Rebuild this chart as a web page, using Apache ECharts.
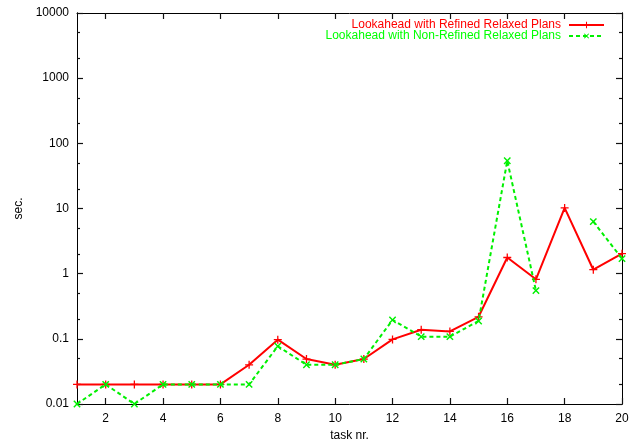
<!DOCTYPE html>
<html>
<head>
<meta charset="utf-8">
<style>
html,body{margin:0;padding:0;background:#fff;}
#chart{width:634px;height:442px;}
</style>
<script src="https://cdn.jsdelivr.net/npm/echarts@6/dist/echarts.min.js"></script>
</head>
<body>
<div id="chart"></div>
<script>
var tasks = [1,2,3,4,5,6,7,8,9,10,11,12,13,14,15,16,17,18,19,20];
var refined = [0.02,0.02,0.02,0.02,0.02,0.02,0.04,0.097,0.049,0.04,0.049,0.098,0.138,0.13,0.218,1.77,0.82,10.2,1.15,2.03];
var nonRefined = [0.01,0.02,0.01,0.02,0.02,0.02,0.02,0.077,0.04,0.04,0.049,0.195,0.108,0.108,0.188,54,0.55,null,6.3,1.7];
var xTicks = [2,4,6,8,10,12,14,16,18,20];
var yMajor = [0.01,0.1,1,10,100,1000,10000];
var yMinor = [0.02,0.05,0.2,0.5,2,5,20,50,200,500,2000,5000];
var seriesNames = ['Lookahead with Refined Relaxed Plans','Lookahead with Non-Refined Relaxed Plans'];

var RED = '#ff0000', GREEN = '#00f000', GREEN_TXT = '#00ff00';
var FONT = '"Liberation Sans", Arial, Helvetica, sans-serif';
var plus = 'path://M4.2,0H5.8V4.2H10V5.8H5.8V10H4.2V5.8H0V4.2H4.2Z';

function pairs(ys){ return tasks.map(function(t,i){ return [t, ys[i]]; }); }

function yAxisDef(pos, custom, len, labels){
  return {
    type:'log', logBase:10, min:0.01, max:10000, position:pos,
    axisLine:{show:true, onZero:false, lineStyle:{color:'#000', width:1}},
    axisTick:{show:true, inside:true, length:len, customValues:custom, lineStyle:{color:'#111', width:1.2}},
    axisLabel:{show:labels, customValues:yMajor, color:'#000', fontSize:12, fontFamily:FONT, margin:8,
      formatter:function(v){ return String(+Number(v).toPrecision(6)); }},
    splitLine:{show:false}, minorTick:{show:false}
  };
}

var chart = echarts.init(document.getElementById('chart'), null, {renderer:'canvas'});
var yAxes = [
  yAxisDef('left', yMajor, 6, true),
  yAxisDef('left', yMinor, 3, false),
  yAxisDef('right', yMajor, 6, false),
  yAxisDef('right', yMinor, 3, false)
];
yAxes[0].name = 'sec.';
yAxes[0].nameLocation = 'middle';
yAxes[0].nameGap = 41;
yAxes[0].nameTextStyle = {color:'#000', fontSize:12, fontFamily:FONT};

chart.setOption({
  animation:false,
  backgroundColor:'#fff',
  grid:{left:77, right:12, top:13, bottom:38, containLabel:false, outerBoundsMode:'none'},
  legend:{
    orient:'vertical', right:29, top:19, align:'right', padding:0,
    itemWidth:35, itemHeight:8, itemGap:-1,
    textStyle:{fontSize:12, fontFamily:FONT, lineHeight:10, padding:[0,3,0,0]},
    data:[
      {name:seriesNames[0], textStyle:{color:RED}},
      {name:seriesNames[1], textStyle:{color:GREEN_TXT}}
    ]
  },
  xAxis:[
    {type:'value', min:1, max:20, position:'bottom',
     name:'task nr.', nameLocation:'middle', nameGap:18,
     nameTextStyle:{color:'#000', fontSize:12, fontFamily:FONT},
     axisLine:{show:true, onZero:false, lineStyle:{color:'#000', width:1}},
     axisTick:{show:true, inside:true, length:6, customValues:xTicks, lineStyle:{color:'#111', width:1.2}},
     axisLabel:{customValues:xTicks, color:'#000', fontSize:12, fontFamily:FONT, margin:9},
     splitLine:{show:false}},
    {type:'value', min:1, max:20, position:'top',
     axisLine:{show:true, onZero:false, lineStyle:{color:'#000', width:1}},
     axisTick:{show:true, inside:true, length:6, customValues:xTicks, lineStyle:{color:'#111', width:1.2}},
     axisLabel:{show:false},
     splitLine:{show:false}}
  ],
  yAxis: yAxes,
  series:[
    {name:seriesNames[0], type:'line', data:pairs(refined), xAxisIndex:0, yAxisIndex:0,
     symbol:plus, symbolSize:8, showSymbol:true,
     lineStyle:{color:RED, width:2},
     itemStyle:{color:RED},
     connectNulls:false, z:2},
    {name:seriesNames[1], type:'line', data:pairs(nonRefined), xAxisIndex:0, yAxisIndex:0,
     symbol:plus, symbolSize:9, symbolRotate:45, showSymbol:true,
     lineStyle:{color:GREEN, width:2, type:[4,3]},
     itemStyle:{color:GREEN},
     connectNulls:false, z:3}
  ]
});
</script>
</body>
</html>
